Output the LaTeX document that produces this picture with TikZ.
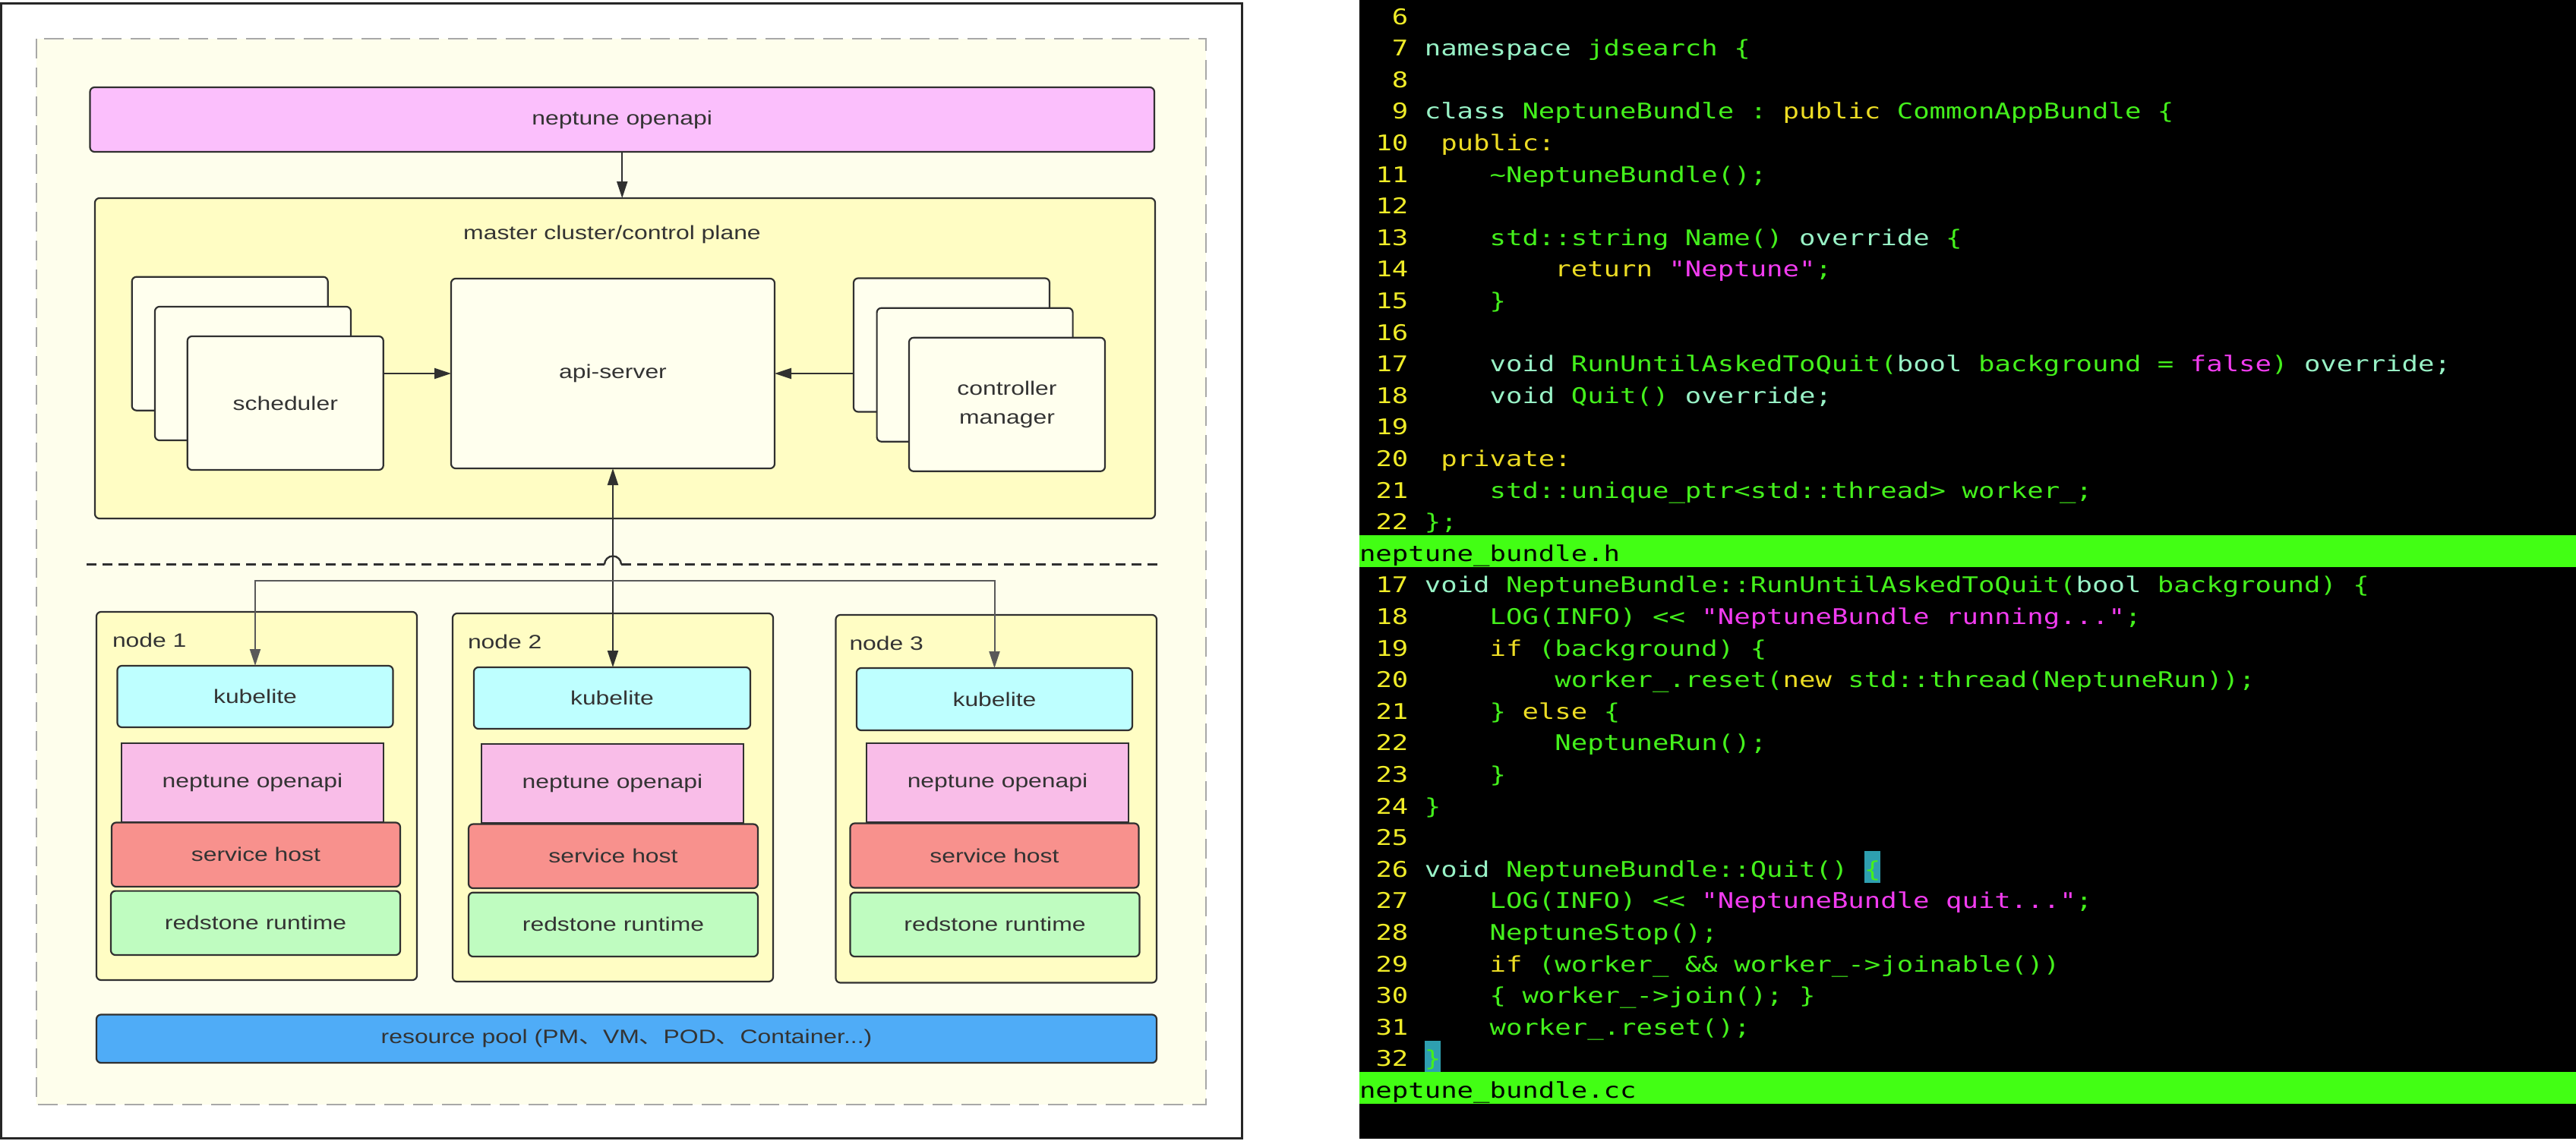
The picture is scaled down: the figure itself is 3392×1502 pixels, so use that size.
\documentclass[tikz,border=0pt]{standalone}
\usepackage{fontspec}
\setmainfont{Liberation Sans}[FakeStretch=1.25]
\newfontfamily\cjkfont{Noto Sans CJK SC}[FakeStretch=1.25]
\newfontfamily\codefont{DejaVu Sans Mono}[FakeStretch=1.25,WordSpace={1,0,0}]
\usetikzlibrary{arrows.meta}
\definecolor{fillOuter}{HTML}{FEFEEC}
\definecolor{dashgray}{HTML}{A8A8A8}
\definecolor{cTopApi}{HTML}{FBBFFC}
\definecolor{cYel}{HTML}{FFFDC4}
\definecolor{cLight}{HTML}{FFFFEE}
\definecolor{cKube}{HTML}{BEFFFF}
\definecolor{cNapi}{HTML}{F9BDE8}
\definecolor{cSvc}{HTML}{F8918D}
\definecolor{cRs}{HTML}{BFFCC0}
\definecolor{cPool}{HTML}{4FACF7}
\definecolor{txt}{HTML}{333333}
\definecolor{bd}{HTML}{303030}
\definecolor{cnum}{HTML}{F0EC28}
\definecolor{ckey}{HTML}{ECDC24}
\definecolor{cgreen}{HTML}{44F01C}
\definecolor{cmint}{HTML}{98F2C6}
\definecolor{cmag}{HTML}{F23CF0}
\definecolor{cbar}{HTML}{42FF14}
\definecolor{chl}{HTML}{2E9FB0}
\newcommand\lfont{\fontsize{25.5}{38}\selectfont}
\newcommand\cfont{\codefont\fontsize{28.5}{34}\selectfont}
\newcommand\tkM[1]{\textcolor{cmint}{#1}}
\newcommand\tkY[1]{\textcolor{ckey}{#1}}
\newcommand\tkS[1]{\textcolor{cmag}{#1}}
\newcommand\numln[2]{\node[lnum] (n#1) at (1854.4,{32+41.6*#1}) {#2};}
\newcommand\codeln[3]{\numln{#1}{#2}\node[ctext] (t#1) at (1875.8,{32+41.6*#1}) {#3};}
\begin{document}
\begin{tikzpicture}[x=1pt,y=-1pt,
  every node/.style={inner sep=0pt,outer sep=0pt},
  lbl/.style={font=\lfont,text=txt,align=center},
  box/.style={lbl,draw=bd,line width=2.2pt,rounded corners=6pt},
  sqbox/.style={lbl,draw=bd,line width=2.2pt},
  tri/.style={-{Triangle[length=22pt,width=14pt]}},
  conn/.style={draw=bd,line width=2pt},
  branch/.style={draw=black!65,line width=2pt},
  sepline/.style={draw=bd,line width=2.4pt,dash pattern=on 13pt off 8pt},
  lnum/.style={anchor=base east,font=\cfont,text=cnum},
  ctext/.style={anchor=base west,font=\cfont,text=cgreen},
  bartext/.style={anchor=base west,font=\cfont,text=black}]
\useasboundingbox (0,0) rectangle (3392,1502);
\fill[white] (0,0) rectangle (3392,1502);
% ---------------- left panel ----------------
\draw[line width=2.5pt,draw=black!85] (1.5,4.5) rectangle (1635.5,1499.5);
\filldraw[fill=fillOuter,draw=dashgray,line width=2pt,dash pattern=on 26pt off 12pt] (48,51) rectangle (1588,1455);

\node[box,fill=cTopApi,minimum width=1401.5,minimum height=85] (topapi) at (819.25,157.5) {neptune openapi};
\node[box,fill=cYel,minimum width=1396,minimum height=422] (master) at (823,472) {};
\node[lbl] (mtitle) at (806,309) {master cluster/control plane};

\node[box,fill=cLight,minimum width=258,minimum height=176] (schedA) at (302.7,452.7) {};
\node[box,fill=cLight,minimum width=258,minimum height=176] (schedB) at (333,492) {};
\node[box,fill=cLight,minimum width=258,minimum height=176] (sched) at (375.8,531) {scheduler};

\node[box,fill=cLight,minimum width=426,minimum height=250] (api) at (807,492) {api-server};

\node[box,fill=cLight,minimum width=258,minimum height=176] (ctrlA) at (1253,454.5) {};
\node[box,fill=cLight,minimum width=258,minimum height=176] (ctrlB) at (1283.6,493.7) {};
\node[box,fill=cLight,minimum width=258,minimum height=176] (ctrl) at (1326,532.8) {controller\\manager};

% worker nodes
\node[box,fill=cYel,minimum width=422,minimum height=485] (node1) at (338,1048.5) {};
\node[box,fill=cYel,minimum width=422,minimum height=485] (node2) at (807,1050.5) {};
\node[box,fill=cYel,minimum width=422.5,minimum height=484.5] (node3) at (1311.75,1052.25) {};
\node[lbl,anchor=base west] (lab1) at (148,852) {node 1};
\node[lbl,anchor=base west] (lab2) at (616,854) {node 2};
\node[lbl,anchor=base west] (lab3) at (1118.5,856) {node 3};

\node[box,fill=cKube,minimum width=363,minimum height=81] (kube1) at (336,917.5) {kubelite};
\node[box,fill=cKube,minimum width=364,minimum height=81] (kube2) at (806,919.5) {kubelite};
\node[box,fill=cKube,minimum width=363,minimum height=82] (kube3) at (1309.5,921) {kubelite};

\node[sqbox,fill=cNapi,minimum width=345,minimum height=104] (napi1) at (332.5,1031) {neptune openapi};
\node[sqbox,fill=cNapi,minimum width=345,minimum height=104] (napi2) at (806.5,1032) {neptune openapi};
\node[sqbox,fill=cNapi,minimum width=345,minimum height=104] (napi3) at (1313.5,1031) {neptune openapi};

\node[box,fill=cSvc,minimum width=380,minimum height=84.5] (svc1) at (337,1125.75) {service host};
\node[box,fill=cSvc,minimum width=381,minimum height=84.5] (svc2) at (807.5,1127.8) {service host};
\node[box,fill=cSvc,minimum width=380,minimum height=85] (svc3) at (1309.5,1127) {service host};

\node[box,fill=cRs,minimum width=381,minimum height=84.4] (rs1) at (336.5,1215.8) {redstone runtime};
\node[box,fill=cRs,minimum width=381,minimum height=84.4] (rs2) at (807.5,1217.85) {redstone runtime};
\node[box,fill=cRs,minimum width=381,minimum height=84.4] (rs3) at (1310,1217.85) {redstone runtime};

\node[box,fill=cPool,minimum width=1396,minimum height=63.5] (pool) at (825,1368.25) {resource pool (PM{\cjkfont 、}VM{\cjkfont 、}POD{\cjkfont 、}Container...)};

% connectors
\draw[conn,tri] (topapi.south) -- (topapi.south |- master.north);
\draw[conn,tri] (sched.east |- api.west) -- (api.west);
\draw[conn,tri] (ctrlA.west |- api.east) -- (api.east);

\coordinate (sepL) at (114,743.5);
\coordinate (sepR) at (1524,743.5);
\coordinate (hopL) at ([xshift=-11pt]api.south |- sepL);
\coordinate (hopR) at ([xshift=11pt]api.south |- sepL);
\draw[sepline] (sepL) -- (hopL);
\draw[sepline] (hopR) -- (sepR);
\draw[conn,line width=2.4pt] (hopL) arc[start angle=180,end angle=360,radius=11];

\draw[conn,{Triangle[length=22pt,width=14pt]}-{Triangle[length=22pt,width=14pt]}] (api.south) -- (api.south |- kube2.north);
\coordinate (jn) at (api.south |- 0,765);
\draw[branch,tri] (jn) -| (kube1.north);
\draw[branch,tri] (jn) -| (kube3.north);

% ---------------- right panel (code) ----------------
\fill[black] (1790,0) rectangle (3392,1500);
\fill[cbar] (1790,{32+41.6*17-34}) rectangle (3392,{32+41.6*18-34});
\fill[cbar] (1790,{32+41.6*34-34}) rectangle (3392,{32+41.6*35-34});
\fill[chl] ({1790+31*21.45},{32+41.6*27-34}) rectangle ++(21.45,41.6);
\fill[chl] ({1790+4*21.45},{32+41.6*33-34}) rectangle ++(21.45,41.6);

\numln{0}{6}
\codeln{1}{7}{\tkM{namespace}~jdsearch~\{}
\numln{2}{8}
\codeln{3}{9}{\tkM{class}~NeptuneBundle~:~\tkY{public}~CommonAppBundle~\{}
\codeln{4}{10}{~\tkY{public:}}
\codeln{5}{11}{~~~~\textasciitilde NeptuneBundle();}
\numln{6}{12}
\codeln{7}{13}{~~~~std::string~Name()~\tkM{override}~\{}
\codeln{8}{14}{~~~~~~~~\tkY{return}~\tkS{"Neptune"};}
\codeln{9}{15}{~~~~\}}
\numln{10}{16}
\codeln{11}{17}{~~~~\tkM{void}~RunUntilAskedToQuit(\tkM{bool}~background~=~\tkS{false})~\tkM{override;}}
\codeln{12}{18}{~~~~\tkM{void}~Quit()~\tkM{override;}}
\numln{13}{19}
\codeln{14}{20}{~\tkY{private:}}
\codeln{15}{21}{~~~~std::unique\_ptr<std::thread>~worker\_;}
\codeln{16}{22}{\};}
\node[bartext] (bar1) at (1790,{32+41.6*17}) {neptune\_bundle.h};

\codeln{18}{17}{\tkM{void}~NeptuneBundle::RunUntilAskedToQuit(\tkM{bool}~background)~\{}
\codeln{19}{18}{~~~~LOG(INFO)~<\kern0pt<~\tkS{"NeptuneBundle~running..."};}
\codeln{20}{19}{~~~~\tkY{if}~(background)~\{}
\codeln{21}{20}{~~~~~~~~worker\_.reset(\tkY{new}~std::thread(NeptuneRun));}
\codeln{22}{21}{~~~~\}~\tkY{else}~\{}
\codeln{23}{22}{~~~~~~~~NeptuneRun();}
\codeln{24}{23}{~~~~\}}
\codeln{25}{24}{\}}
\numln{26}{25}
\codeln{27}{26}{\tkM{void}~NeptuneBundle::Quit()~\{}
\codeln{28}{27}{~~~~LOG(INFO)~<\kern0pt<~\tkS{"NeptuneBundle~quit..."};}
\codeln{29}{28}{~~~~NeptuneStop();}
\codeln{30}{29}{~~~~\tkY{if}~(worker\_~\&\&~worker\_->joinable())}
\codeln{31}{30}{~~~~\{~worker\_->join();~\}}
\codeln{32}{31}{~~~~worker\_.reset();}
\codeln{33}{32}{\}}
\node[bartext] (bar2) at (1790,{32+41.6*34}) {neptune\_bundle.cc};
\end{tikzpicture}
\end{document}
